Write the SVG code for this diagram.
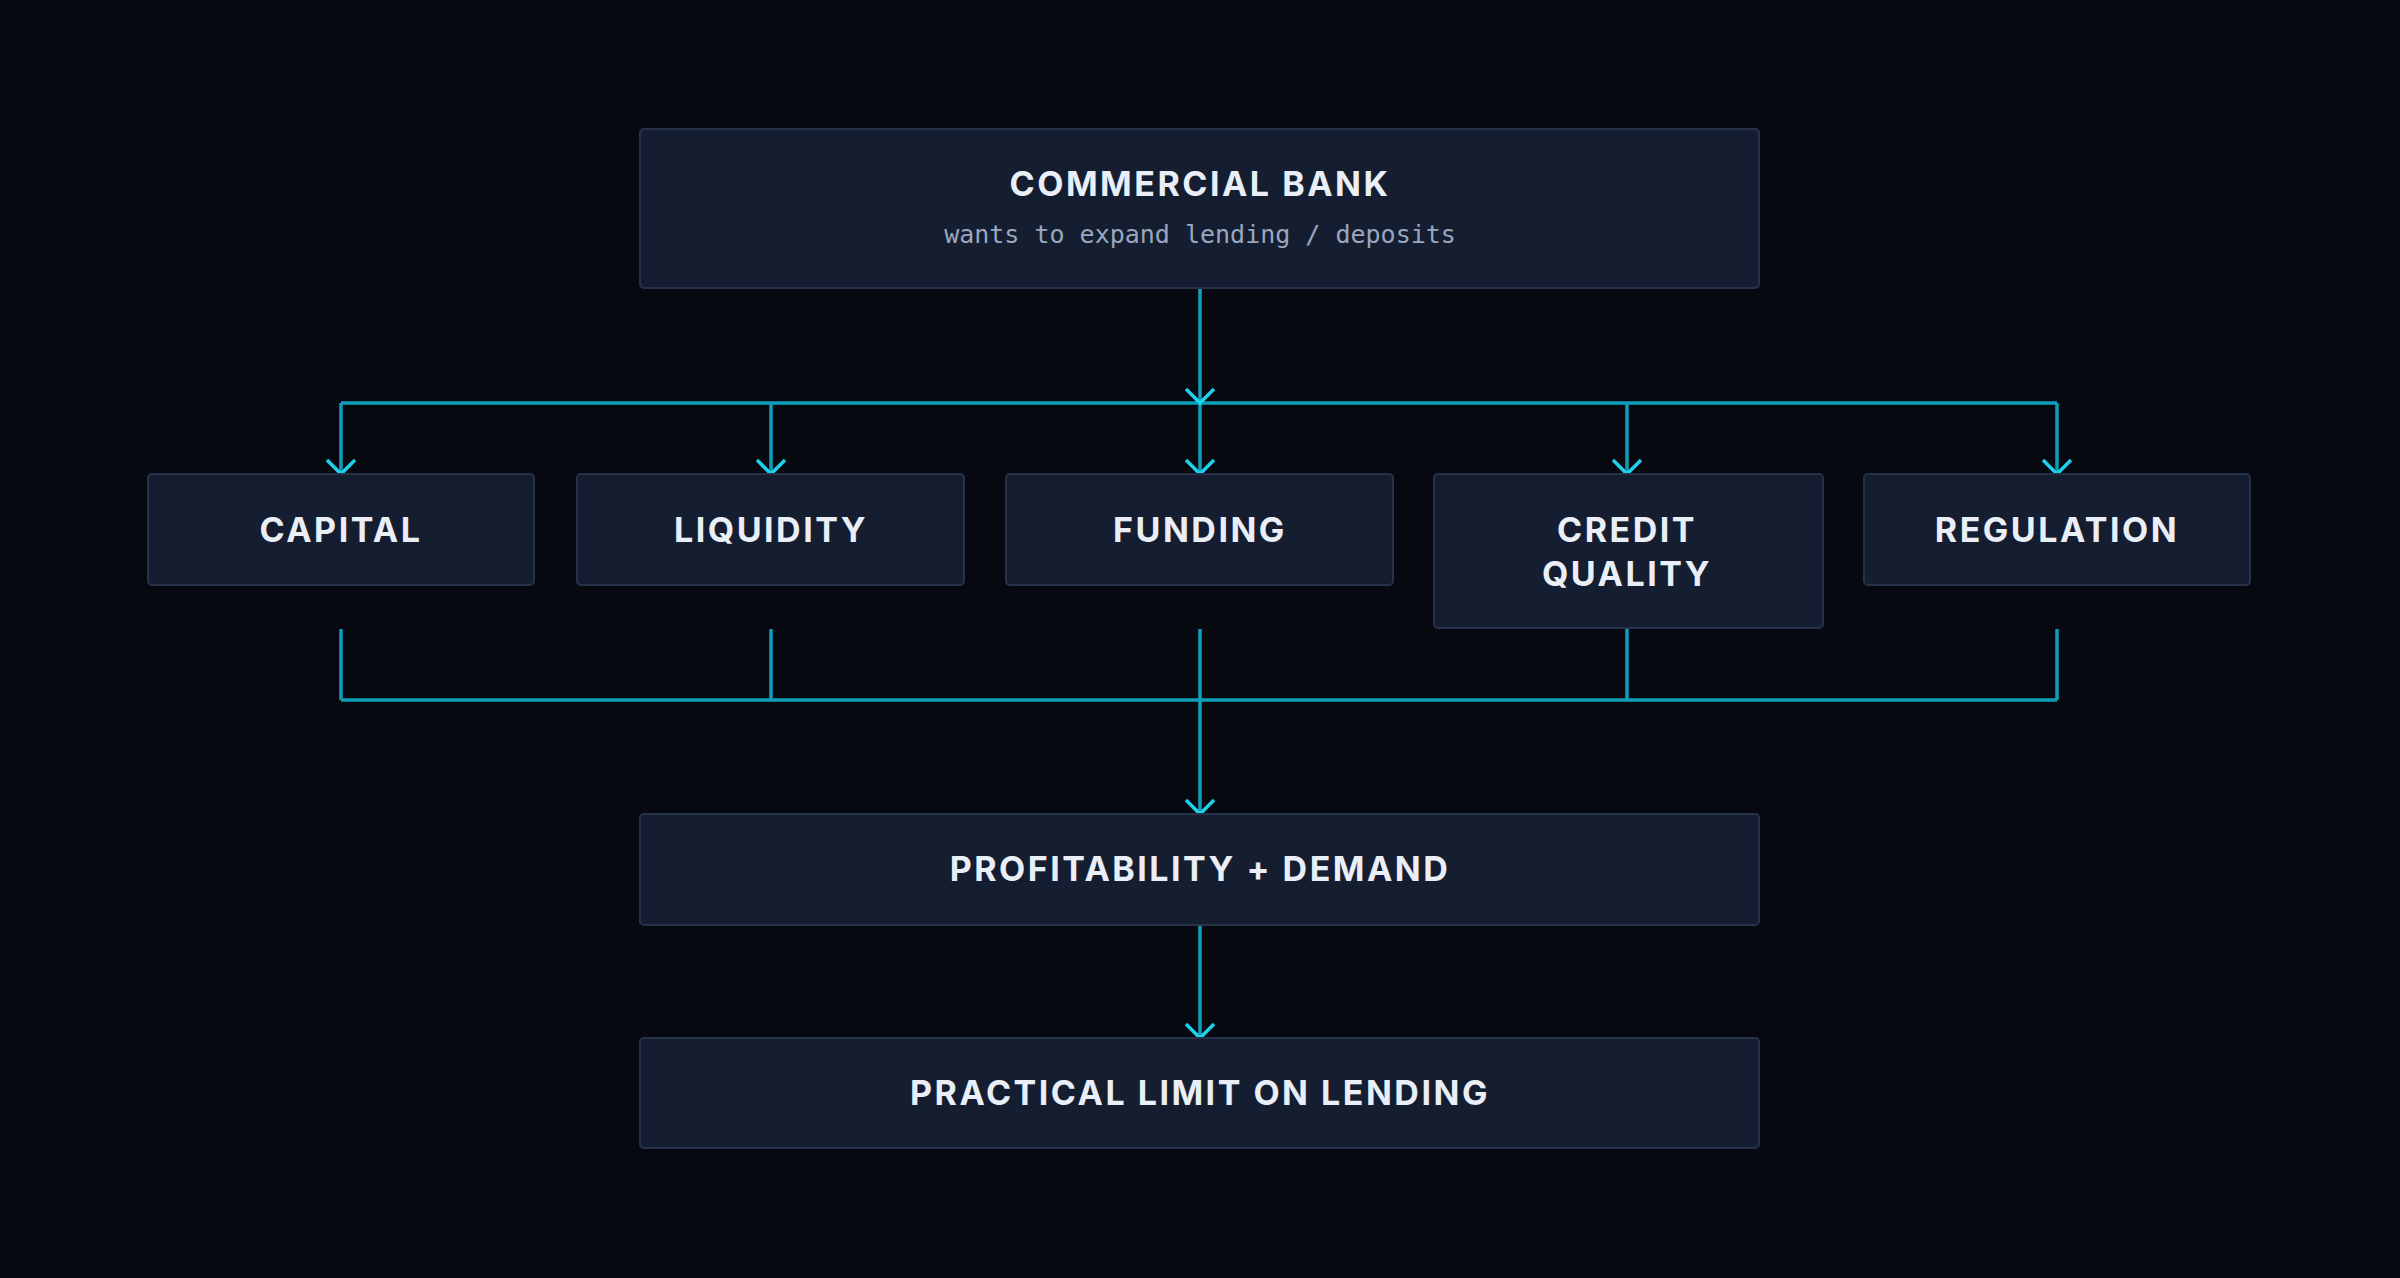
<svg xmlns="http://www.w3.org/2000/svg" width="2400" height="1278" viewBox="0 0 2400 1278">
<style>
.box{fill:#151e30;stroke:#27314a;stroke-width:2}
.t{font-family:Inter,"Liberation Sans",sans-serif;font-weight:700;font-size:34px;fill:#e9eef7;text-anchor:middle;letter-spacing:2.5px}
.s{font-family:"DejaVu Sans Mono","Liberation Mono",monospace;font-size:25px;fill:#9aa6bf;text-anchor:middle}
.c{fill:none;stroke:#0e9fb8;stroke-width:3.5}
.a{fill:none;stroke:#1fd0ec;stroke-width:3.5}
</style>
<rect width="2400" height="1278" fill="#070910"/>
<g id="connectors">
<path class="c" d="M1200 288V403M341 403H2057M341 403V474M771 403V474M1200 403V474M1627 403V474M2057 403V474"/>
<path class="c" d="M341 629V700M771 629V700M1200 629V700M1627 629V700M2057 629V700M341 700H2057M1200 700V814M1200 925V1038"/>
<path class="a" d="M1186 389L1200 403L1214 389M327 460L341 474L355 460M757 460L771 474L785 460M1186 460L1200 474L1214 460M1613 460L1627 474L1641 460M2043 460L2057 474L2071 460M1186 800L1200 814L1214 800M1186 1024L1200 1038L1214 1024"/>
</g>
<g id="bank"><rect class="box" x="640" y="129" width="1119" height="159" rx="4"/><text class="t" x="1200" y="196">COMMERCIAL BANK</text><text class="s" x="1200" y="243">wants to expand lending / deposits</text></g>
<g id="capital"><rect class="box" x="148" y="474" width="386" height="111" rx="4"/><text class="t" x="341" y="542">CAPITAL</text></g>
<g id="liquidity"><rect class="box" x="577" y="474" width="387" height="111" rx="4"/><text class="t" x="771" y="542">LIQUIDITY</text></g>
<g id="funding"><rect class="box" x="1006" y="474" width="387" height="111" rx="4"/><text class="t" x="1200" y="542">FUNDING</text></g>
<g id="credit"><rect class="box" x="1434" y="474" width="389" height="154" rx="4"/><text class="t" x="1627" y="542">CREDIT</text><text class="t" x="1627" y="586">QUALITY</text></g>
<g id="regulation"><rect class="box" x="1864" y="474" width="386" height="111" rx="4"/><text class="t" x="2057" y="542">REGULATION</text></g>
<g id="profit"><rect class="box" x="640" y="814" width="1119" height="111" rx="4"/><text class="t" x="1200" y="881">PROFITABILITY + DEMAND</text></g>
<g id="limit"><rect class="box" x="640" y="1038" width="1119" height="110" rx="4"/><text class="t" x="1200" y="1105">PRACTICAL LIMIT ON LENDING</text></g>
</svg>
